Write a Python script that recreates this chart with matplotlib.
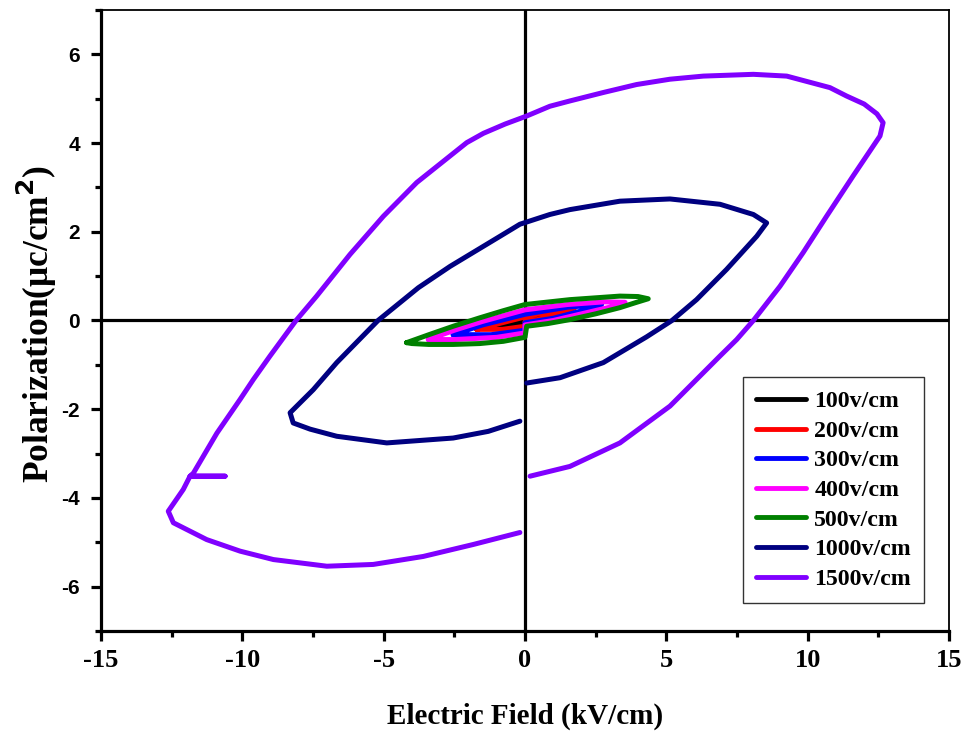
import matplotlib
matplotlib.use("Agg")
import matplotlib.pyplot as plt
from matplotlib.ticker import MultipleLocator

plt.rcParams["axes.unicode_minus"] = False

# P-E loops, (E kV/cm, P uC/cm2)
e_100 = [-1.1, -0.5, 0.0, 0.6, 1.1, 0.5, 0.0, 0.0, -0.6, -1.1]
p_100 = [-0.10, -0.02, 0.04, 0.09, 0.12, 0.03, -0.01, -0.06, -0.09, -0.10]

e_200 = [-1.71, -0.8, 0.0, 1.0, 1.77, 1.2, 0.5, 0.0, 0.0, -0.8, -1.71]
p_200 = [-0.20, -0.05, 0.08, 0.22, 0.29, 0.16, 0.03, -0.03, -0.13, -0.20, -0.20]

e_300 = [-2.54, -1.5, 0.0, 1.5, 2.71, 2.2, 1.0, 0.0, 0.0, -1.2, -2.54]
p_300 = [-0.32, -0.10, 0.14, 0.30, 0.36, 0.25, 0.05, -0.05, -0.22, -0.32, -0.32]

e_400 = [-3.42, -2.5, -1.5, 0.0, 1.5, 2.8, 3.54, 3.0, 2.0, 1.0, 0.0, 0.0, -1.0, -2.5, -3.42]
p_400 = [-0.43, -0.22, -0.02, 0.24, 0.36, 0.42, 0.41, 0.30, 0.15, 0.0, -0.10, -0.28, -0.38, -0.43, -0.43]

e_500 = [-4.19, -3.4, -2.54, -1.6, -0.77, 0.0, 1.59, 3.36, 4.0, 4.36, 3.9, 3.36, 2.5, 1.59,
         0.8, 0.06, 0.0, -0.77, -1.6, -2.54, -3.4, -4.0, -4.19]
p_500 = [-0.50, -0.32, -0.13, 0.06, 0.22, 0.36, 0.47, 0.55, 0.54, 0.49, 0.40, 0.29, 0.15, 0.02,
         -0.07, -0.13, -0.38, -0.47, -0.52, -0.54, -0.54, -0.52, -0.50]

e_1000 = [-0.18, -1.3, -2.54, -4.89, -6.66, -7.6, -8.2, -8.31, -7.49, -6.66, -5.2, -3.77,
          -2.65, -0.88, -0.18, 0.88, 1.59, 3.36, 5.13, 6.9, 8.08, 8.55, 8.2, 7.13, 6.07,
          5.2, 4.3, 2.77, 1.24, 0.06]
p_1000 = [-2.27, -2.5, -2.65, -2.76, -2.61, -2.45, -2.31, -2.08, -1.56, -0.95, 0.0, 0.74,
          1.22, 1.9, 2.17, 2.39, 2.5, 2.69, 2.74, 2.62, 2.39, 2.2, 1.9, 1.15, 0.47,
          0.0, -0.37, -0.95, -1.29, -1.41]

e_1500 = [-0.18, -1.83, -3.6, -5.37, -7.01, -8.9, -10.08, -11.26, -12.44, -12.62, -12.09,
          -11.85, -10.61, -11.85, -11.73, -10.9, -10.08, -9.61, -9.02, -8.1, -7.37, -6.19,
          -5.01, -3.83, -2.65, -2.06, -1.47, -0.7, 0.06, 0.88, 1.59, 2.77, 3.95, 5.13, 6.31, 8.08,
          9.26, 10.79, 11.38, 12.0, 12.45, 12.67, 12.56, 11.61, 10.67, 9.84, 9.02, 8.08, 7.49, 6.9,
          5.13, 3.36, 1.59, 0.18]
p_1500 = [-4.78, -5.05, -5.32, -5.5, -5.54, -5.39, -5.2, -4.94, -4.56, -4.3, -3.81,
          -3.51, -3.51, -3.51, -3.44, -2.54, -1.78, -1.33, -0.8, 0.0, 0.55, 1.49,
          2.35, 3.11, 3.71, 4.01, 4.22, 4.43, 4.61, 4.83, 4.95, 5.14, 5.32, 5.44, 5.51, 5.55,
          5.51, 5.25, 5.06, 4.88, 4.66, 4.46, 4.16, 3.26, 2.35, 1.53, 0.77, 0.0, -0.43, -0.8,
          -1.93, -2.76, -3.29, -3.51]

labels = ["100v/cm", "200v/cm", "300v/cm", "400v/cm", "500v/cm", "1000v/cm", "1500v/cm"]
colors = ["black", "red", "blue", "magenta", "#008000", "#000080", "#8000FF"]
loops = [(e_100, p_100), (e_200, p_200), (e_300, p_300), (e_400, p_400),
         (e_500, p_500), (e_1000, p_1000), (e_1500, p_1500)]

serif = "Liberation Serif"
sans = "Liberation Sans"

fig = plt.figure(figsize=(9.73, 7.36), dpi=100)
ax = fig.add_axes([0.1038, 0.1427, 0.8715, 0.8437])

ax.axhline(0, color="black", lw=2.3, zorder=1)
ax.axvline(0, color="black", lw=2.3, zorder=1)

for (e, p), lab, c in zip(loops, labels, colors):
    ax.plot(e, p, color=c, lw=3.6, label=lab, solid_capstyle="round", solid_joinstyle="round", zorder=2)

ax.set_xlim(-15, 15)
ax.set_ylim(-7, 7)
ax.xaxis.set_major_locator(MultipleLocator(5))
ax.xaxis.set_minor_locator(MultipleLocator(2.5))
ax.yaxis.set_major_locator(MultipleLocator(2))
ax.yaxis.set_minor_locator(MultipleLocator(1))
ax.tick_params(which="major", direction="out", length=7, width=2.3, top=False, right=False)
ax.tick_params(which="minor", direction="out", length=4.5, width=2.3, top=False, right=False)

for s in ["left", "bottom"]:
    ax.spines[s].set_linewidth(2.3)
for s in ["top", "right"]:
    ax.spines[s].set_linewidth(1.3)

for t in ax.get_xticklabels():
    t.set_fontfamily(serif)
    t.set_fontweight("bold")
    t.set_fontsize(19)
for t in ax.get_yticklabels():
    t.set_fontfamily(sans)
    t.set_fontweight("bold")
    t.set_fontsize(15)
ax.tick_params(axis="x", pad=6)
ax.tick_params(axis="y", pad=8)

ax.set_xlabel("Electric Field (kV/cm)", fontfamily=serif, fontweight="bold", fontsize=21)
ax.set_ylabel("Polarization(\u03bcc/cm$^\\mathbf{2}$)", fontfamily=serif, fontweight="bold", fontsize=25.5)
ax.xaxis.set_label_coords(0.5, -0.116)
ax.yaxis.set_label_coords(-0.049, 0.495)

leg = ax.legend(loc="lower right", bbox_to_anchor=(0.9705, 0.045), borderaxespad=0, frameon=True,
                fancybox=False, edgecolor="black", handlelength=2.1, handletextpad=0.35,
                labelspacing=0.33, borderpad=0.55, prop={"family": serif, "weight": "bold", "size": 17.2})
leg.get_frame().set_linewidth(1.0)
for line in leg.get_lines():
    line.set_linewidth(3.5)

fig.savefig("out.png", dpi=100)
